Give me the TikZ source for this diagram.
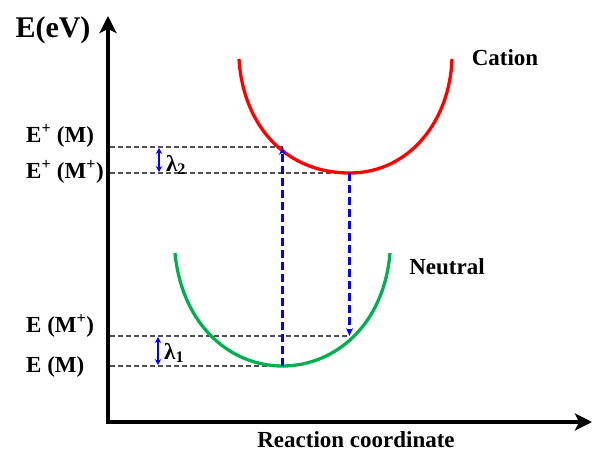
\documentclass[tikz,border=0pt]{standalone}
\usepackage{fontspec}
\setmainfont{Liberation Serif}
\usetikzlibrary{arrows.meta}
\definecolor{cgreen}{RGB}{0,176,80}
\definecolor{dgray}{RGB}{80,80,80}
\begin{document}
\begin{tikzpicture}[x=1pt,y=-1pt,
 lbl/.style={font=\fontsize{23}{26}\selectfont\bfseries, inner sep=0pt},
 level/.style={dgray, line width=1.8pt, dash pattern=on 5pt off 3pt},
 trans/.style={blue, line width=2.6pt, dash pattern=on 8pt off 4pt},
 axis/.style={line width=3.2pt, line join=miter, {Stealth[length=17pt,width=17pt,inset=4pt]}-{Stealth[length=17pt,width=17pt,inset=4pt]}},
 lam/.style={blue, line width=1.6pt, {Stealth[length=6pt,width=6.5pt]}-{Stealth[length=6pt,width=6.5pt]}},
 curve/.style={line width=3.3pt},
]
\useasboundingbox (0,0) rectangle (592,452);

% axes
\coordinate (O) at (108,422);
\coordinate (ytop) at (108,16);
\coordinate (xend) at (592,422);
\draw[axis] (ytop) -- (O) -- (xend);

% level points
\coordinate (cM) at (282.5,147);
\coordinate (cMp) at (349.5,173);
\coordinate (nMp) at (349.5,336);
\coordinate (nM) at (282.5,366);
\coordinate (a1) at (110,147);
\coordinate (a2) at (110,173);
\coordinate (a3) at (110,336);
\coordinate (a4) at (110,366);

% dashed levels
\draw[level] (a1) -- (cM);
\draw[level] (a2) -- (cMp);
\draw[level] (a3) -- (nMp);
\draw[level] (a4) -- (nM);

% curves
\coordinate (rL) at (239,59);
\coordinate (rR) at (452,59);
\coordinate (gL) at (175,253);
\coordinate (gR) at (390,253);
\draw[curve, red] (rL) .. controls (243,125) and (285,173) .. (cMp)
   .. controls (410,173) and (450,120) .. (rR);
\draw[curve, cgreen] (gL) .. controls (182,325) and (230,366) .. (nM)
   .. controls (335,366) and (384,325) .. (gR);

% vertical transitions
\draw[trans, -{Stealth[length=8pt,width=7pt]}] (nM) -- (cM);
\draw[trans, -{Stealth[length=8pt,width=7pt]}] (cMp) -- (nMp);

% lambda arrows
\coordinate (l2t) at (159,148);
\coordinate (l2b) at (159,172);
\coordinate (l1t) at (158,337);
\coordinate (l1b) at (158,365);
\draw[lam] (l2t) -- (l2b);
\draw[lam] (l1t) -- (l1b);

% labels
\node[lbl] (eev) at (53,30) {\fontsize{30}{32}\selectfont E(eV)};
\node[lbl, anchor=west] (lcM) at (26,136) {E\textsuperscript{+} (M)};
\node[lbl, anchor=west] (lcMp) at (26,172) {E\textsuperscript{+} (M\textsuperscript{+})};
\node[lbl, anchor=west] (lnMp) at (26,326) {E (M\textsuperscript{+})};
\node[lbl, anchor=west] (lnM) at (26,367) {E (M)};
\node[lbl, anchor=west] (lam2) at (166,165) {λ\textsubscript{2}};
\node[lbl, anchor=west] (lam1) at (164,353) {λ\textsubscript{1}};
\node[lbl] (cat) at (505,58) {Cation};
\node[lbl] (neu) at (447,267) {Neutral};
\node[lbl] (rc) at (356,440) {Reaction coordinate};
\end{tikzpicture}
\end{document}
